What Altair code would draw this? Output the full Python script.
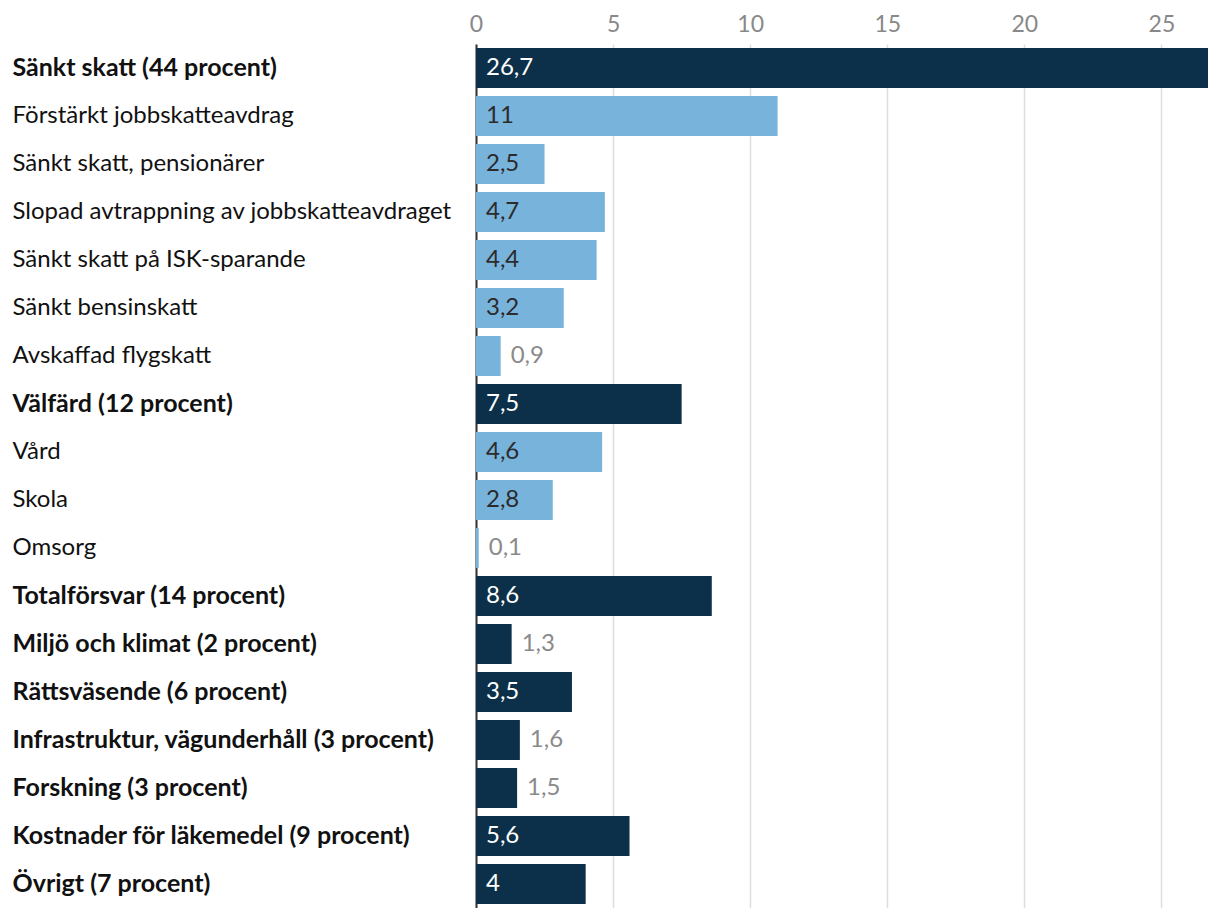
import altair as alt
import pandas as pd

categories = [
    "Sänkt skatt (44 procent)",
    "Förstärkt jobbskatteavdrag",
    "Sänkt skatt, pensionärer",
    "Slopad avtrappning av jobbskatteavdraget",
    "Sänkt skatt på ISK-sparande",
    "Sänkt bensinskatt",
    "Avskaffad flygskatt",
    "Välfärd (12 procent)",
    "Vård",
    "Skola",
    "Omsorg",
    "Totalförsvar (14 procent)",
    "Miljö och klimat (2 procent)",
    "Rättsväsende (6 procent)",
    "Infrastruktur, vägunderhåll (3 procent)",
    "Forskning (3 procent)",
    "Kostnader för läkemedel (9 procent)",
    "Övrigt (7 procent)",
]
values = [26.7, 11, 2.5, 4.7, 4.4, 3.2, 0.9, 7.5, 4.6, 2.8, 0.1, 8.6, 1.3, 3.5, 1.6, 1.5, 5.6, 4]
is_main = [True, False, False, False, False, False, False, True, False, False, False,
           True, True, True, True, True, True, True]
x_ticks = [0, 5, 10, 15, 20, 25]

DARK = "#0c3049"
LIGHT = "#78b3db"
THRESH = 2.0

rows = []
for c, v, m in zip(categories, values, is_main):
    inside = v >= THRESH
    rows.append({
        "cat": c,
        "val": v,
        "fill": DARK if m else LIGHT,
        "label": f"{v:g}".replace(".", ","),
        "lx": 0 if inside else v,
        "tcolor": ("#ffffff" if m else "#2b2b2b") if inside else "#8a8a8a",
    })
df = pd.DataFrame(rows)

FONT = "Lato"
BOLD_TEST = "indexof(datum.value, 'procent') >= 0"

y_enc = alt.Y(
    "cat:N",
    sort=categories,
    title=None,
    scale=alt.Scale(paddingInner=1 / 6, paddingOuter=1 / 12),
    axis=alt.Axis(
        orient="left",
        ticks=False,
        domain=True,
        domainColor="#333333",
        domainWidth=2,
        labelAlign="left",
        labelPadding=464,
        labelLimit=470,
        labelFont=FONT,
        labelFontSize={"condition": {"test": BOLD_TEST, "value": 25}, "value": 24},
        labelColor="#111111",
        labelFontWeight={"condition": {"test": BOLD_TEST, "value": "bold"}, "value": "normal"},
    ),
)

bars = alt.Chart(df).mark_bar().encode(
    x=alt.X(
        "val:Q",
        title=None,
        scale=alt.Scale(domain=[0, 26.7], nice=False, zero=True),
        axis=alt.Axis(
            orient="top",
            values=x_ticks,
            ticks=False,
            domain=False,
            grid=True,
            gridColor="#dddddd",
            gridWidth=1.5,
            labelFont=FONT,
            labelFontSize=23,
            labelColor="#888888",
            labelPadding=8,
            labelFlush=False,
        ),
    ),
    y=y_enc,
    color=alt.Color("fill:N", scale=None),
)

texts = alt.Chart(df).mark_text(
    align="left", baseline="middle", dx=10, font=FONT, fontSize=24
).encode(
    x=alt.X("lx:Q"),
    y=alt.Y("cat:N", sort=categories),
    text="label:N",
    color=alt.Color("tcolor:N", scale=None),
)

chart = (
    alt.layer(bars, texts)
    .properties(
        width=732,
        height=864,
        autosize=alt.AutoSizeParams(type="none"),
        padding={"left": 468, "top": 36, "right": 4, "bottom": 0},
    )
    .configure_view(stroke=None)
)

chart.save("out.html", embed_options={"renderer": "svg", "actions": False})
